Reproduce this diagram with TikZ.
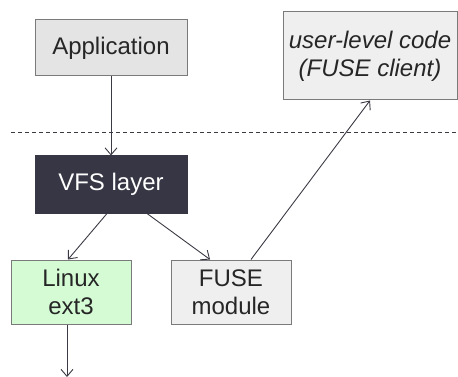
\documentclass[tikz,border=0pt]{standalone}
\usepackage{fontspec}
\setmainfont{Liberation Sans}
\usetikzlibrary{arrows.meta}
\definecolor{vfsdark}{HTML}{363645}
\definecolor{appgray}{HTML}{E4E4E4}
\definecolor{lightgray2}{HTML}{EEEFEE}
\definecolor{extgreen}{HTML}{D5FBD5}
\definecolor{edgegray}{HTML}{7A7A7A}
\definecolor{linegray}{HTML}{3A3A44}
\begin{document}
\begin{tikzpicture}[x=1pt,y=-1pt,
  box/.style={draw=edgegray, line width=1pt, inner sep=0pt, align=center, font=\fontsize{24}{28}\selectfont, text=black!85},
  conn/.style={draw=linegray, line width=0.9pt, -{Straight Barb[length=7pt,width=12pt]}}]
\useasboundingbox (0,0) rectangle (458,377);
\node[box, fill=appgray, minimum width=152pt, minimum height=56pt] (app) at (111,48) {Application};
\node[box, fill=lightgray2, minimum width=174pt, minimum height=88pt, font=\fontsize{24}{28}\selectfont\itshape] (user) at (370,56) {user-level code\\(FUSE client)};
\draw[dashed, draw=linegray, line width=0.8pt, dash pattern=on 4pt off 3pt] (11,132) -- (458,132);
\node[box, fill=vfsdark, draw=vfsdark, text=white, minimum width=152pt, minimum height=57pt] (vfs) at (111,184.5) {VFS layer};
\node[box, fill=extgreen, minimum width=120pt, minimum height=64pt] (ext) at (71,292) {Linux\\ext3};
\node[box, fill=lightgray2, minimum width=120pt, minimum height=64pt] (fuse) at (231,292) {FUSE\\module};
\coordinate (down) at (67,377);
\draw[conn] (app) -- (vfs);
\draw[conn] ([xshift=-4pt]vfs.south) -- ([xshift=-3pt]ext.north);
\draw[conn] ([xshift=36pt]vfs.south) -- ([xshift=-21pt]fuse.north);
\draw[conn] ([xshift=20pt]fuse.north) -- (user.south);
\draw[conn] ([xshift=-4pt]ext.south) -- (down);
\end{tikzpicture}
\end{document}
